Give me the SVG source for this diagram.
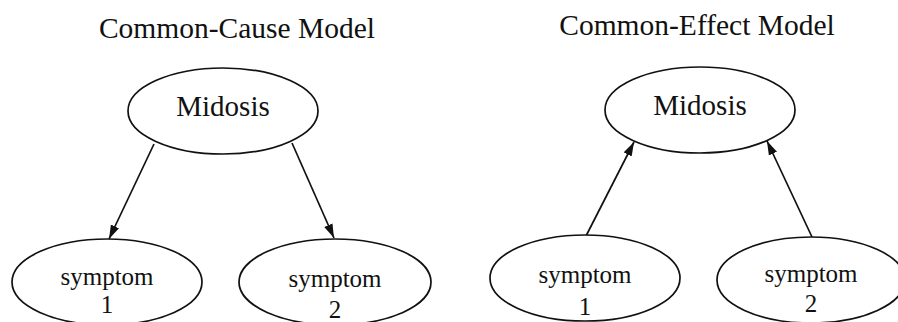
<svg xmlns="http://www.w3.org/2000/svg" width="898" height="322" viewBox="0 0 898 322">
<style>
.title{font-family:"Liberation Serif","Times New Roman",serif;font-size:29.5px;fill:#111;text-anchor:middle}
.big{font-family:"Liberation Serif","Times New Roman",serif;font-size:29px;fill:#111;text-anchor:middle}
.small{font-family:"Liberation Serif","Times New Roman",serif;font-size:25px;fill:#111;text-anchor:middle}
ellipse{fill:#fff;stroke:#111;stroke-width:1.7}
.edge{stroke:#111;stroke-width:1.7;fill:none;marker-end:url(#ah)}
</style>
<defs>
<marker id="ah" markerUnits="userSpaceOnUse" markerWidth="15" markerHeight="10" refX="14" refY="5" orient="auto">
<path d="M0,0.5 L14,5 L0,9.5 Z" fill="#111"/>
</marker>
</defs>
<rect width="898" height="322" fill="#fff"/>
<text class="title" x="237" y="38">Common-Cause Model</text>
<text class="title" x="697" y="35">Common-Effect Model</text>
<g id="connectors">
<line class="edge" x1="154" y1="144" x2="109" y2="239"/>
<line class="edge" x1="292" y1="143" x2="334" y2="238"/>
<line class="edge" x1="586" y1="236" x2="634" y2="142"/>
<line class="edge" x1="812" y1="237" x2="767" y2="141"/>
</g>
<g id="cc-midosis">
<ellipse cx="223" cy="111" rx="95" ry="43"/>
<text class="big" x="223" y="116">Midosis</text>
</g>
<g id="cc-symptom1">
<ellipse cx="107" cy="282" rx="95" ry="43"/>
<text class="small" x="107" y="285">symptom</text>
<text class="small" x="107" y="313">1</text>
</g>
<g id="cc-symptom2">
<ellipse cx="335" cy="282" rx="96" ry="43"/>
<text class="small" x="335" y="287">symptom</text>
<text class="small" x="335" y="318">2</text>
</g>
<g id="ce-midosis">
<ellipse cx="700" cy="110" rx="95" ry="43"/>
<text class="big" x="700" y="115">Midosis</text>
</g>
<g id="ce-symptom1">
<ellipse cx="585" cy="278" rx="95" ry="43"/>
<text class="small" x="585" y="283">symptom</text>
<text class="small" x="585" y="315">1</text>
</g>
<g id="ce-symptom2">
<ellipse cx="811" cy="280" rx="94" ry="43"/>
<text class="small" x="811" y="282">symptom</text>
<text class="small" x="811" y="312">2</text>
</g>
</svg>
